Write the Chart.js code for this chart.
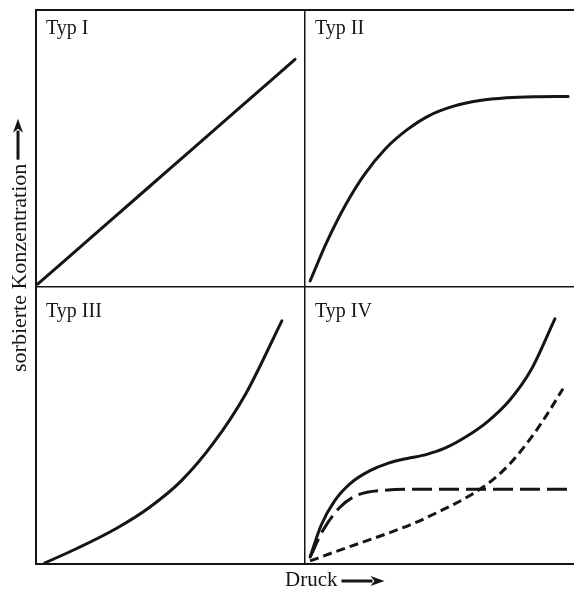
<!DOCTYPE html>
<html>
<head>
<meta charset="utf-8">
<script src="https://cdn.jsdelivr.net/npm/chart.js@4/dist/chart.umd.min.js"></script>
<style>
  html, body { margin: 0; padding: 0; background: #fff; }
  #wrap { width: 574px; height: 589px; }
</style>
</head>
<body>
<div id="wrap"><canvas id="isoChart" width="574" height="589"></canvas></div>
<script>
// Sorption isotherms, four panels in a 2x2 grid

const panelLabels = ['Typ I', 'Typ II', 'Typ III', 'Typ IV'];
const panelOffsets = [[0, 1], [1, 1], [0, 0], [1, 0]]; // x, y of each panel's origin

const xTitle = 'Druck';
const yTitle = 'sorbierte Konzentration';

// curve points in panel-local units (0..1)
const typ1X = [0.007, 0.25, 0.5, 0.75, 0.963];
const typ1Y = [0.011, 0.217, 0.429, 0.641, 0.822];

const typ2X = [0.019, 0.08, 0.15, 0.22, 0.30, 0.38, 0.46, 0.55, 0.65, 0.75, 0.85, 0.978];
const typ2Y = [0.022, 0.16, 0.295, 0.405, 0.50, 0.568, 0.618, 0.652, 0.673, 0.683, 0.687, 0.688];

const typ3X = [0.033, 0.15, 0.30, 0.42, 0.54, 0.66, 0.78, 0.914];
const typ3Y = [0.004, 0.055, 0.129, 0.203, 0.30, 0.437, 0.615, 0.878];

const typ4X = [0.019, 0.06, 0.11, 0.17, 0.24, 0.31, 0.38, 0.45, 0.52, 0.60, 0.68, 0.76, 0.84, 0.929];
const typ4Y = [0.025, 0.14, 0.228, 0.292, 0.336, 0.364, 0.381, 0.395, 0.418, 0.46, 0.515, 0.59, 0.70, 0.885];

// Typ IV components: monolayer (long dash) and multilayer (short dash)
const monoX = [0.019, 0.067, 0.13, 0.193, 0.29, 0.45, 0.7, 1.0];
const monoY = [0.025, 0.122, 0.205, 0.248, 0.266, 0.27, 0.27, 0.27];

const multiX = [0.019, 0.10, 0.2, 0.3, 0.4, 0.5, 0.6, 0.68, 0.76, 0.84, 0.90, 0.959];
const multiY = [0.011, 0.04, 0.074, 0.108, 0.145, 0.19, 0.24, 0.29, 0.36, 0.455, 0.54, 0.633];

const ink = '#151515';

function curve(xs, ys, panel, dash) {
  const [ox, oy] = panelOffsets[panel];
  return {
    data: xs.map((x, i) => ({ x: x + ox, y: ys[i] + oy })),
    showLine: true,
    borderColor: ink,
    borderWidth: 3,
    borderDash: dash || [],
    borderCapStyle: dash ? 'butt' : 'round',
    pointRadius: 0,
    cubicInterpolationMode: 'monotone',
    clip: 3
  };
}

function drawArrow(ctx, x0, y0, len) {
  const head = 14;
  ctx.beginPath();
  ctx.lineWidth = 3;
  ctx.moveTo(x0, y0);
  ctx.lineTo(x0 + len - head + 2, y0);
  ctx.stroke();
  ctx.beginPath();
  ctx.moveTo(x0 + len, y0);
  ctx.lineTo(x0 + len - head, y0 - 5);
  ctx.lineTo(x0 + len - head + 4, y0);
  ctx.lineTo(x0 + len - head, y0 + 5);
  ctx.closePath();
  ctx.fill();
}

const textPlugin = {
  id: 'isoText',
  afterDraw(chart) {
    const { ctx, scales: { x, y } } = chart;
    ctx.save();
    ctx.fillStyle = ink;
    ctx.strokeStyle = ink;
    ctx.textBaseline = 'alphabetic';
    ctx.textAlign = 'left';

    ctx.font = '20px "Liberation Serif", "Times New Roman", serif';
    panelLabels.forEach((label, i) => {
      const [ox, oy] = panelOffsets[i];
      const px = x.getPixelForValue(ox) + 10;
      const py = y.getPixelForValue(oy + 1) + (oy === 1 ? 24 : 30);
      ctx.fillText(label, px, py);
    });

    // x axis title
    ctx.font = '21px "Liberation Serif", "Times New Roman", serif';
    const bx = 285, by = 586;
    ctx.fillText(xTitle, bx, by);
    const wx = ctx.measureText(xTitle).width;
    drawArrow(ctx, bx + wx + 4, by - 5, 43);

    // y axis title
    ctx.font = '22px "Liberation Serif", "Times New Roman", serif';
    ctx.translate(26, 372);
    ctx.rotate(-Math.PI / 2);
    ctx.fillText(yTitle, 0, 0);
    const wy = ctx.measureText(yTitle).width;
    drawArrow(ctx, wy + 4, -8, 41);
    ctx.restore();
  }
};

new Chart(document.getElementById('isoChart'), {
  type: 'scatter',
  data: {
    datasets: [
      curve(typ1X, typ1Y, 0),
      curve(typ2X, typ2Y, 1),
      curve(typ3X, typ3Y, 2),
      curve(typ4X, typ4Y, 3),
      curve(monoX, monoY, 3, [20, 7]),
      curve(multiX, multiY, 3, [9, 5])
    ]
  },
  options: {
    responsive: false,
    animation: false,
    devicePixelRatio: 1,
    layout: { padding: { top: 10, right: 0, bottom: 0, left: 0 } },
    plugins: {
      legend: { display: false },
      tooltip: { enabled: false }
    },
    scales: {
      x: {
        type: 'linear',
        min: 0,
        max: 2,
        ticks: { display: false, stepSize: 1 },
        grid: {
          drawTicks: false,
          color: (c) => (c.tick && c.tick.value === 2 ? 'rgba(0,0,0,0)' : ink),
          lineWidth: 1.5
        },
        border: { display: true, color: ink, width: 2 },
        afterFit: (s) => { s.height = 25; }
      },
      y: {
        min: 0,
        max: 2,
        ticks: { display: false, stepSize: 1 },
        grid: {
          drawTicks: false,
          color: ink,
          lineWidth: (c) => (c.tick && c.tick.value === 2 ? 2 : 1.5)
        },
        border: { display: true, color: ink, width: 2 },
        afterFit: (s) => { s.width = 36; }
      }
    }
  },
  plugins: [textPlugin]
});
</script>
</body>
</html>
